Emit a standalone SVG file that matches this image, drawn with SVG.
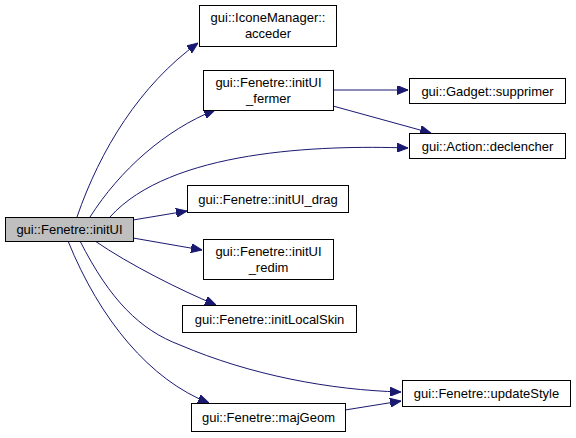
<svg xmlns="http://www.w3.org/2000/svg" width="576" height="438" viewBox="0 0 576 438">
<style>
.n rect{fill:#fff;stroke:#000;stroke-width:1}
.n text{font-family:"Liberation Sans",Arial,sans-serif;font-size:13px;fill:#000;text-anchor:middle}
.e path{fill:none;stroke:#191970;stroke-width:1}
</style>
<defs>
<marker id="a" viewBox="0 0 11 9" refX="11" refY="4.5" markerWidth="11" markerHeight="9" markerUnits="userSpaceOnUse" orient="auto">
<path d="M0,0L11,4.5L0,9z" fill="#191970" stroke="#191970"/>
</marker>
</defs>
<rect width="576" height="438" fill="#fff"/>
<g class="e">
<path d="M77,217C100,150 140,85 198,43" marker-end="url(#a)"/>
<path d="M90,217C120,170 165,130 215,110" marker-end="url(#a)"/>
<path d="M110,217C170,150 320,145 408,148" marker-end="url(#a)"/>
<path d="M133,220L187,211" marker-end="url(#a)"/>
<path d="M133,238L202,250" marker-end="url(#a)"/>
<path d="M95,241C130,265 180,290 216,305" marker-end="url(#a)"/>
<path d="M80,241C110,300 140,330 180,345C250,375 330,390 401,392" marker-end="url(#a)"/>
<path d="M68,241C100,320 150,380 209,403" marker-end="url(#a)"/>
<path d="M333,90L408,90" marker-end="url(#a)"/>
<path d="M333,106L431,133" marker-end="url(#a)"/>
<path d="M345,410L401,401" marker-end="url(#a)"/>
</g>
<g id="initUI" class="n"><rect x="5.5" y="217.5" width="128" height="24" style="fill:#bfbfbf"/><text x="69.5" y="234">gui::Fenetre::initUI</text></g>
<g id="acceder" class="n"><rect x="199.5" y="5.5" width="137" height="41"/><text x="268" y="21.5">gui::IconeManager::</text><text x="268" y="37.5">acceder</text></g>
<g id="fermer" class="n"><rect x="203.5" y="70.5" width="130" height="40"/><text x="268.5" y="86.5">gui::Fenetre::initUI</text><text x="268.5" y="102.5">_fermer</text></g>
<g id="supprimer" class="n"><rect x="409.5" y="78.5" width="156" height="25"/><text x="487.5" y="95.5">gui::Gadget::supprimer</text></g>
<g id="declencher" class="n"><rect x="409.5" y="133.5" width="156" height="25"/><text x="487.5" y="150.5">gui::Action::declencher</text></g>
<g id="drag" class="n"><rect x="187.5" y="185.5" width="161" height="27"/><text x="268" y="203.5">gui::Fenetre::initUI_drag</text></g>
<g id="redim" class="n"><rect x="203.5" y="239.5" width="130" height="40"/><text x="268.5" y="255.5">gui::Fenetre::initUI</text><text x="268.5" y="271.5">_redim</text></g>
<g id="skin" class="n"><rect x="182.5" y="305.5" width="174" height="27"/><text x="269.5" y="323.5">gui::Fenetre::initLocalSkin</text></g>
<g id="updateStyle" class="n"><rect x="402.5" y="380.5" width="168" height="26"/><text x="486.5" y="398">gui::Fenetre::updateStyle</text></g>
<g id="majGeom" class="n"><rect x="191.5" y="403.5" width="154" height="28"/><text x="268.5" y="422">gui::Fenetre::majGeom</text></g>
</svg>
